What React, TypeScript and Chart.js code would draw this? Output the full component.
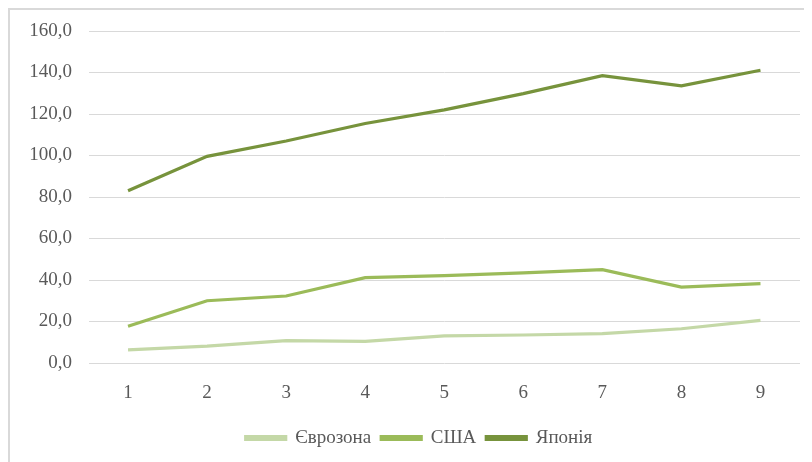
import React, { useEffect, useRef } from "react";
import { Chart, registerables } from "chart.js";

Chart.register(...registerables);

const categories = ["1", "2", "3", "4", "5", "6", "7", "8", "9"];
const eurozone = [6.3, 8.1, 10.8, 10.4, 13.1, 13.5, 14.2, 16.5, 20.5];
const usa = [17.7, 30.0, 32.3, 41.1, 42.1, 43.4, 45.0, 36.6, 38.3];
const japan = [83.0, 99.6, 107.0, 115.4, 122.0, 129.8, 138.5, 133.6, 141.1];
const seriesNames = ["Єврозона", "США", "Японія"];
const yTicks = { min: 0, max: 160, step: 20 };

const legendShift = {
  id: "legendShift",
  afterLayout(chart: any) {
    const lg = chart.legend;
    if (lg) {
      lg.left += 7;
      lg.right += 7;
    }
  },
};

export default function App() {
  const ref = useRef<HTMLCanvasElement | null>(null);
  useEffect(() => {
    if (!ref.current) return;
    const font = { family: "'Liberation Serif', 'Times New Roman', serif", size: 19 };
    const colors = ["#c4d8a7", "#9bbb59", "#77933c"];
    const chart = new Chart(ref.current, {
      type: "line",
      data: {
        labels: categories,
        datasets: [eurozone, usa, japan].map((d, i) => ({
          label: seriesNames[i],
          data: d,
          borderColor: colors[i],
          backgroundColor: colors[i],
          borderWidth: 3.2,
          pointRadius: 0,
          tension: 0,
          fill: false,
        })),
      },
      plugins: [legendShift],
      options: {
        animation: false,
        responsive: false,
        maintainAspectRatio: false,
        layout: { padding: { top: 21, right: 12, bottom: 4.5, left: 14 } },
        plugins: {
          tooltip: { enabled: false },
          legend: {
            position: "bottom",
            labels: {
              font,
              color: "#595959",
              boxWidth: 40,
              boxHeight: 3,
              padding: 10,
            },
          },
        },
        scales: {
          x: {
            offset: true,
            grid: { display: false },
            border: { display: false },
            ticks: { font, color: "#595959", padding: 11 },
            afterFit: (s: any) => {
              s.height = 55.5;
            },
          },
          y: {
            min: yTicks.min,
            max: yTicks.max,
            grid: { color: "#d9d9d9", lineWidth: 1, drawTicks: false },
            border: { display: false },
            ticks: {
              stepSize: yTicks.step,
              font,
              color: "#595959",
              padding: 16.5,
              callback: (v: any) => Number(v).toFixed(1).replace(".", ","),
            },
            afterFit: (s: any) => {
              s.width = 64.5;
              s.paddingTop = 0;
              s.paddingBottom = 0;
            },
          },
        },
      },
    });
    return () => chart.destroy();
  }, []);
  return (
    <div
      style={{
        width: 812,
        height: 460,
        border: "2px solid #d9d9d9",
        boxSizing: "content-box",
      }}
    >
      <canvas ref={ref} width={802} height={452} style={{ display: "block", width: 802, height: 452 }} />
    </div>
  );
}
